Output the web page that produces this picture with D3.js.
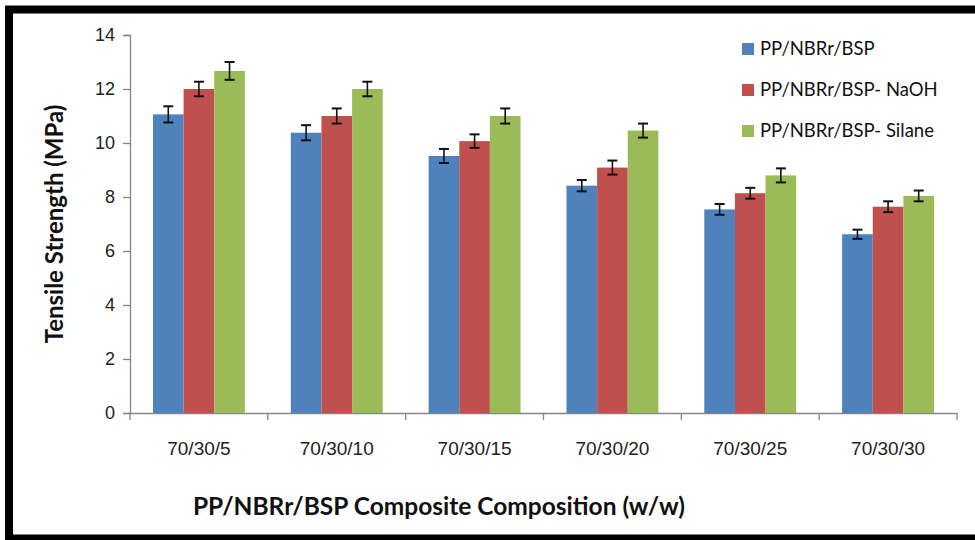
<!DOCTYPE html>
<html>
<head>
<meta charset="utf-8">
<script src="https://cdn.jsdelivr.net/npm/d3@7"></script>
<style>
  body { margin: 0; background: #fff; }
  svg { display: block; font-family: Lato, "Open Sans", sans-serif; }
</style>
</head>
<body>
<div id="chart"></div>
<script>
const categories = ['70/30/5', '70/30/10', '70/30/15', '70/30/20', '70/30/25', '70/30/30'];
const seriesNames = ['PP/NBRr/BSP', 'PP/NBRr/BSP- NaOH', 'PP/NBRr/BSP- Silane'];
const colors = ['#4F81BD', '#C0504D', '#9BBB59'];

// tensile strength values (MPa)
const plain = [11.06, 10.38, 9.52, 8.42, 7.54, 6.62];
const naoh = [12.0, 11.0, 10.07, 9.09, 8.14, 7.64];
const silane = [12.67, 12.0, 11.0, 10.46, 8.80, 8.04];

// error bar half-widths
const plainErr = [0.30, 0.28, 0.26, 0.21, 0.20, 0.17];
const naohErr = [0.27, 0.28, 0.25, 0.26, 0.20, 0.20];
const silaneErr = [0.33, 0.27, 0.28, 0.26, 0.26, 0.20];

const yTicks = [0, 2, 4, 6, 8, 10, 12, 14];

const values = [plain, naoh, silane];
const errors = [plainErr, naohErr, silaneErr];

const width = 975, height = 540;
const margin = { top: 35, right: 18, bottom: 127, left: 130 };

const svg = d3.select('#chart').append('svg')
  .attr('width', width)
  .attr('height', height);

// frame
svg.append('rect')
  .attr('x', 9).attr('y', 9.5)
  .attr('width', 1000).attr('height', 529)
  .attr('fill', 'none')
  .attr('stroke', '#000')
  .attr('stroke-width', 8);

const x = d3.scaleBand()
  .domain(categories)
  .range([margin.left, width - margin.right])
  .paddingInner(0)
  .paddingOuter(0);

const xs = d3.scaleBand()
  .domain(seriesNames)
  .range([0, x.bandwidth()])
  .paddingOuter(0.75)
  .paddingInner(0);

const y = d3.scaleLinear()
  .domain([0, 14])
  .range([height - margin.bottom, margin.top]);

const axisColor = '#868686';

// y axis
const yAxis = svg.append('g')
  .attr('transform', `translate(${margin.left},0)`)
  .call(d3.axisLeft(y).tickValues(yTicks).tickSize(7).tickPadding(8).tickFormat(d3.format('d')));
yAxis.select('.domain').attr('stroke', axisColor).attr('stroke-width', 1.3);
yAxis.selectAll('.tick line').attr('stroke', axisColor).attr('stroke-width', 1.3);
yAxis.selectAll('.tick text').attr('fill', '#222').style('font-size', '18px');

// x axis
const xAxis = svg.append('g')
  .attr('transform', `translate(0,${y(0)})`)
  .call(d3.axisBottom(x).tickSize(0).tickPadding(29));
xAxis.select('.domain').attr('stroke', axisColor).attr('stroke-width', 1.3);
xAxis.selectAll('.tick text').attr('fill', '#222').style('font-size', '19px');
// boundary ticks between categories
xAxis.selectAll('.bound')
  .data(categories.concat(['end']))
  .enter().append('line')
  .attr('class', 'bound')
  .attr('x1', (d, i) => i < categories.length ? x(d) : x(categories[categories.length - 1]) + x.bandwidth())
  .attr('x2', (d, i) => i < categories.length ? x(d) : x(categories[categories.length - 1]) + x.bandwidth())
  .attr('y1', 0).attr('y2', 7)
  .attr('stroke', axisColor).attr('stroke-width', 1.3);

// bars
const groups = svg.append('g').selectAll('g')
  .data(categories)
  .enter().append('g')
  .attr('transform', d => `translate(${x(d)},0)`);

groups.each(function(cat, ci) {
  const g = d3.select(this);
  seriesNames.forEach((s, si) => {
    const v = values[si][ci];
    const e = errors[si][ci];
    const bx = xs(s);
    g.append('rect')
      .attr('x', bx)
      .attr('y', y(v))
      .attr('width', xs.bandwidth())
      .attr('height', y(0) - y(v))
      .attr('fill', colors[si]);
    const cx = bx + xs.bandwidth() / 2;
    g.append('line')
      .attr('x1', cx).attr('x2', cx)
      .attr('y1', y(v + e)).attr('y2', y(v - e))
      .attr('stroke', '#111').attr('stroke-width', 1.6);
    [v + e, v - e].forEach(t => {
      g.append('line')
        .attr('x1', cx - 5).attr('x2', cx + 5)
        .attr('y1', y(t)).attr('y2', y(t))
        .attr('stroke', '#111').attr('stroke-width', 2);
    });
  });
});

// legend
const legend = svg.append('g').attr('transform', 'translate(742,49)');
seriesNames.forEach((s, i) => {
  const row = legend.append('g').attr('transform', `translate(0,${i * 41})`);
  row.append('rect')
    .attr('x', 0).attr('y', -6)
    .attr('width', 12).attr('height', 12)
    .attr('fill', colors[i]);
  row.append('text')
    .attr('x', 18).attr('y', 0)
    .attr('dy', '0.35em')
    .attr('fill', '#111')
    .style('font-size', '18.5px')
    .text(s);
});

// axis titles
svg.append('text')
  .attr('transform', `translate(63,${(y(0) + y(14)) / 2}) rotate(-90)`)
  .attr('text-anchor', 'middle')
  .attr('fill', '#111')
  .style('font-size', '24px')
  .style('font-weight', 'bold')
  .text('Tensile Strength (MPa)');

svg.append('text')
  .attr('x', 439).attr('y', 515)
  .attr('text-anchor', 'middle')
  .attr('fill', '#111')
  .style('font-size', '24.5px')
  .style('font-weight', 'bold')
  .text('PP/NBRr/BSP Composite Composition (w/w)');
</script>
</body>
</html>
